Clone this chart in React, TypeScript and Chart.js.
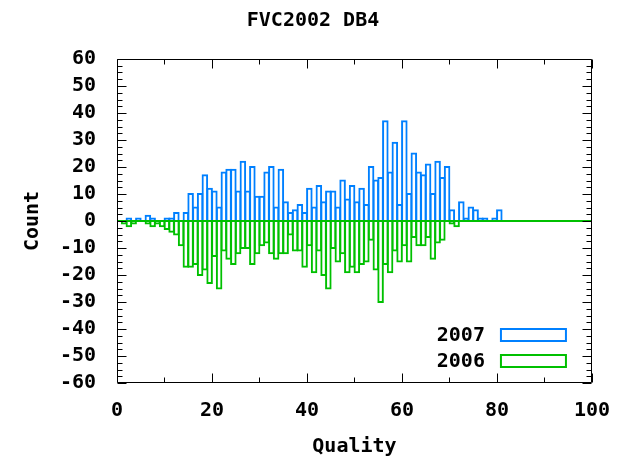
import React, { useEffect, useRef } from "react";
import { Chart, registerables } from "chart.js";

Chart.register(...registerables);

const TITLE = "FVC2002 DB4";
const X_TITLE = "Quality";
const Y_TITLE = "Count";
const SERIES = ["2007", "2006"];

const QUALITY = [
  0, 1, 2, 3, 4, 5, 6, 7, 8, 9,
  10, 11, 12, 13, 14, 15, 16, 17, 18, 19,
  20, 21, 22, 23, 24, 25, 26, 27, 28, 29,
  30, 31, 32, 33, 34, 35, 36, 37, 38, 39,
  40, 41, 42, 43, 44, 45, 46, 47, 48, 49,
  50, 51, 52, 53, 54, 55, 56, 57, 58, 59,
  60, 61, 62, 63, 64, 65, 66, 67, 68, 69,
  70, 71, 72, 73, 74, 75, 76, 77, 78, 79,
  80,
];

const COUNT_2007 = [
  0, 0, 1, 0, 1, 0, 2, 1, 0, 0,
  1, 1, 3, 0, 3, 10, 5, 10, 17, 12,
  11, 5, 18, 19, 19, 11, 22, 11, 20, 9,
  9, 18, 20, 5, 19, 7, 3, 4, 6, 3,
  12, 5, 13, 7, 11, 11, 5, 15, 8, 13,
  7, 12, 6, 20, 15, 16, 37, 18, 29, 6,
  37, 10, 25, 18, 17, 21, 10, 22, 16, 20,
  4, 0, 7, 1, 5, 4, 1, 1, 0, 1,
  4,
];

const COUNT_2006 = [
  0, -1, -2, -1, 0, 0, -1, -2, -1, -2,
  -3, -4, -5, -9, -17, -17, -16, -20, -18, -23,
  -13, -25, -11, -14, -16, -12, -10, -10, -16, -12,
  -9, -8, -12, -14, -12, -12, -5, -11, -11, -17,
  -9, -19, -11, -20, -25, -10, -15, -12, -19, -17,
  -19, -16, -15, -7, -18, -30, -16, -19, -11, -15,
  -9, -15, -6, -9, -9, -6, -14, -8, -7, 0,
  -1, -2, 0, 0, 0, 0, 0, 0, 0, 0,
  0,
];

const X_RANGE = [0, 100];
const Y_RANGE = [-60, 60];
const X_TICKS = [0, 20, 40, 60, 80, 100];
const X_MINOR = [10, 30, 50, 70, 90];
const Y_TICKS = [-60, -50, -40, -30, -20, -10, 0, 10, 20, 30, 40, 50, 60];
const Y_MINOR_PER_MAJOR = 4;

const BLUE = "#0080ff";
const GREEN = "#00c000";
const FONT_FAMILY = "'DejaVu Sans Mono', 'Liberation Mono', monospace";
const FONT_SIZE = 20;

const gnuplotFrame = {
  id: "gnuplotFrame",
  afterDraw(chart: any) {
    const { ctx, chartArea: a, scales } = chart;
    const xs = scales.x;
    const ys = scales.y;
    const L = Math.round(a.left) + 0.5;
    const R = Math.round(a.right) - 0.5;
    const T = Math.round(a.top) + 0.5;
    const B = Math.round(a.bottom) - 0.5;
    const majorLen = 9;
    const minorLen = 5;
    ctx.save();
    ctx.strokeStyle = "#000";
    ctx.lineWidth = 1;
    ctx.beginPath();
    ctx.rect(L, T, R - L, B - T);
    const xTick = (v: number, len: number) => {
      const px = Math.round(xs.getPixelForValue(v)) + 0.5;
      ctx.moveTo(px, B);
      ctx.lineTo(px, B - len);
      ctx.moveTo(px, T);
      ctx.lineTo(px, T + len);
    };
    const yTick = (v: number, len: number) => {
      const py = Math.round(ys.getPixelForValue(v)) + 0.5;
      ctx.moveTo(L, py);
      ctx.lineTo(L + len, py);
      ctx.moveTo(R, py);
      ctx.lineTo(R - len, py);
    };
    X_TICKS.forEach((v) => xTick(v, majorLen));
    X_MINOR.forEach((v) => xTick(v, minorLen));
    Y_TICKS.forEach((v, i) => {
      yTick(v, majorLen);
      if (i < Y_TICKS.length - 1) {
        const step = (Y_TICKS[i + 1] - v) / Y_MINOR_PER_MAJOR;
        for (let k = 1; k < Y_MINOR_PER_MAJOR; k++) yTick(v + k * step, minorLen);
      }
    });
    ctx.stroke();

    // axis titles
    ctx.fillStyle = "#000";
    ctx.font = `bold ${FONT_SIZE}px ${FONT_FAMILY}`;
    ctx.textAlign = "center";
    ctx.textBaseline = "middle";
    ctx.fillText(X_TITLE, (a.left + a.right) / 2, a.bottom + 64);
    ctx.save();
    ctx.translate(a.left - 84, (a.top + a.bottom) / 2);
    ctx.rotate(-Math.PI / 2);
    ctx.fillText(Y_TITLE, 0, 0);
    ctx.restore();

    // legend (gnuplot style: label then sample box)
    const bars = chart.data.datasets.filter((d: any) => d.type === "bar");
    bars.forEach((d: any, i: number) => {
      const cy = a.bottom - 48 + i * 26;
      ctx.textAlign = "right";
      ctx.fillStyle = "#000";
      ctx.fillText(d.label, a.right - 107, cy + 1);
      ctx.strokeStyle = d.borderColor;
      ctx.lineWidth = 2;
      ctx.strokeRect(a.right - 91, cy - 6, 65, 12);
    });
    ctx.restore();
  },
};

export default function App() {
  const ref = useRef<HTMLCanvasElement | null>(null);

  useEffect(() => {
    if (!ref.current) return;
    const barCommon = {
      type: "bar" as const,
      backgroundColor: "rgba(0,0,0,0)",
      borderWidth: 0.2,
      inflateAmount: 0.9,
      borderSkipped: "start" as const,
      grouped: false,
      barPercentage: 1,
      categoryPercentage: 1,
      order: 1,
    };
    const chart = new Chart(ref.current, {
      type: "bar",
      data: {
        datasets: [
          {
            ...barCommon,
            label: SERIES[0],
            borderColor: BLUE,
            data: QUALITY.map((q, i) => ({ x: q + 0.5, y: COUNT_2007[i] })),
          },
          {
            ...barCommon,
            label: SERIES[1],
            borderColor: GREEN,
            data: QUALITY.map((q, i) => ({ x: q + 0.5, y: COUNT_2006[i] })),
          },
          {
            type: "line",
            label: "zero",
            data: [
              { x: X_RANGE[0], y: 0 },
              { x: X_RANGE[1], y: 0 },
            ],
            borderColor: GREEN,
            borderWidth: 2,
            pointRadius: 0,
            order: 0,
          },
        ] as any,
      },
      options: {
        animation: false,
        responsive: true,
        maintainAspectRatio: false,
        layout: { padding: { left: 26, right: 26, top: 0, bottom: 0 } },
        plugins: {
          legend: { display: false },
          tooltip: { enabled: false },
          title: {
            display: true,
            text: TITLE,
            color: "#000",
            font: { family: FONT_FAMILY, size: FONT_SIZE, weight: "bold" },
            padding: { top: 9, bottom: 26 },
          },
        },
        scales: {
          x: {
            type: "linear",
            min: X_RANGE[0],
            max: X_RANGE[1],
            offset: false,
            grid: { display: false, drawTicks: false },
            border: { display: false },
            afterBuildTicks: (s: any) => {
              s.ticks = X_TICKS.map((v) => ({ value: v }));
            },
            afterFit: (s: any) => {
              s.height = 79;
            },
            ticks: {
              color: "#000",
              padding: 16,
              maxRotation: 0,
              autoSkip: false,
              font: { family: FONT_FAMILY, size: FONT_SIZE, weight: "bold" },
              callback: (v: any) => String(v),
            },
          },
          y: {
            type: "linear",
            min: Y_RANGE[0],
            max: Y_RANGE[1],
            grid: { display: false, drawTicks: false },
            border: { display: false },
            afterBuildTicks: (s: any) => {
              s.ticks = Y_TICKS.map((v) => ({ value: v }));
            },
            afterFit: (s: any) => {
              s.width = 91;
            },
            ticks: {
              color: "#000",
              padding: 21,
              autoSkip: false,
              font: { family: FONT_FAMILY, size: FONT_SIZE, weight: "bold" },
              callback: (v: any) => String(v),
            },
          },
        },
      } as any,
      plugins: [gnuplotFrame],
    });
    return () => chart.destroy();
  }, []);

  return (
    <div style={{ position: "fixed", left: 0, top: 0, width: 626, height: 462, background: "#fff" }}>
      <canvas ref={ref} />
    </div>
  );
}
